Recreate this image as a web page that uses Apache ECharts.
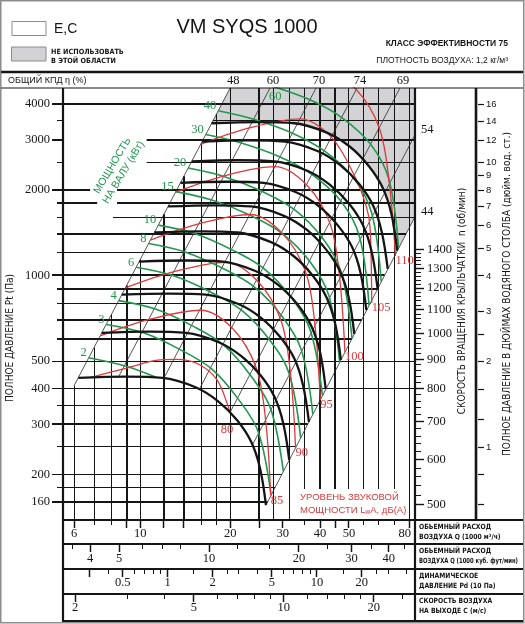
<!DOCTYPE html>
<html>
<head>
<meta charset="utf-8">
<title>VM SYQS 1000</title>
<script src="https://cdn.jsdelivr.net/npm/echarts@6/dist/echarts.min.js"></script>
<style>
  html, body { margin: 0; padding: 0; background: #fff; }
  #chart { width: 525px; height: 624px; }
</style>
</head>
<body>
<div id="chart"></div>
<script>
// VM SYQS 1000 fan map: flow Q (1000 m3/h) against total pressure Pt (Pa), log-log

// ---- extents of the map ----
var qMin = 5.51, qMax = 83.2;        // flow at left / right edge
var pMin = 138.4, pMax = 4556;       // pressure at bottom / top edge
var rpmMin = 470.5, rpmMax = 2693;   // impeller speed scale beside the map
var PA_PER_INCH = 249.09;
var CFM_PER_M3H = 0.5886;
var FLOW_PER_VELOCITY = 3.025;       // 1000 m3/h per 1 m/s at the outlet
var PD_PER_VEL2 = 0.06;              // dynamic pressure (10 Pa) per (m/s)^2

// ---- grid lines and scale ticks ----
var pressureGrid = [160, 180, 200, 250, 300, 350, 400, 500, 600, 700, 800, 900, 1000, 1200, 1400, 1600, 1800, 2000, 2500, 3000, 3500, 4000];
var pressureThick = [160, 300, 600, 700, 900, 1000, 1400, 1800, 2000, 3000, 4000];
var pressureFull = [400, 500];
var pressureLabels = [160, 200, 300, 400, 500, 1000, 2000, 3000, 4000];
var pressureGaps = {1600: [5.51, 8.1], 1800: [7.17, 8.36], 2000: [6.79, 8.36], 2500: [5.51, 10.5], 3000: [5.51, 10.5], 3500: [5.51, 17.5]};

var flowGrid = [6, 7, 8, 9, 10, 12, 14, 16, 18, 20, 25, 28, 31.5, 35.5, 40, 45, 50, 56, 63, 71, 80];
var flowThick = [9, 12, 14, 25, 40, 45];
var flowTicks = [6, 7, 8, 9, 10, 12, 14, 16, 18, 20, 25, 30, 35.5, 40, 45, 50, 56, 63, 71, 80];
var flowLabels = [6, 10, 20, 30, 40, 50, 80];
var cfmTicks = [3.5, 4, 5, 6, 7, 8, 10, 12.5, 16, 20, 25, 30, 35, 40, 45];
var cfmLabels = [4, 5, 10, 20, 30, 40];
var pdTicks = [0.3, 0.4, 0.5, 0.6, 0.7, 0.8, 0.9, 1, 1.5, 2, 2.5, 3, 4, 5, 6, 7, 8, 9, 10, 15, 20, 25, 30, 40];
var pdLabels = [0.5, 1, 2, 5, 10, 20];
var velTicks = [2, 3, 4, 5, 6, 7, 8, 9, 10, 12, 14, 16, 18, 20, 25];
var velLabels = [2, 5, 10, 20];

var rpmTicks = [500, 520, 540, 560, 580, 600, 620, 640, 660, 680, 700, 720, 740, 760, 780, 800, 820, 840, 860, 880,
  900, 920, 940, 960, 980, 1000, 1020, 1040, 1060, 1080, 1100, 1120, 1140, 1160, 1180, 1200, 1220, 1240, 1260, 1280,
  1300, 1320, 1340, 1360, 1380, 1400];
var rpmLabels = [500, 600, 700, 800, 900, 1000, 1100, 1200, 1300, 1400];
var inchLabels = [1, 2, 3, 4, 5, 6, 7, 8, 9, 10, 12, 14, 16];
var inchMinor = [0.63, 0.8, 1.25, 1.6, 2.5];

// ---- thin diagonals: total efficiency (%), end points [Q, Pt] ----
var effLines = [
  [[6.0, 410], [20.0, 4556]],
  [[8.45, 440], [27.2, 4556]],
  [[12.0, 436], [38.8, 4556]],
  [[15.8, 400], [53.2, 4556]],
  [[20.0, 331], [74.1, 4556]],
  [[23.75, 254], [83.2, 3117]],
  [[26.36, 156], [83.2, 1610]]
];
var effLabels = ['48', '60', '70', '74', '69', '54', '44'];

// ---- black: impeller speed (rpm) ----
var speeds = [500, 600, 700, 800, 900, 1000, 1100, 1200, 1300, 1400];
var speed500 = [[6.20, 437], [8.96, 441], [11.88, 437], [15.31, 405], [18.20, 362], [21.11, 310], [23.54, 260], [25.19, 210], [26.36, 156]];
var speed600 = [[7.43, 629], [10.71, 635], [14.23, 629], [18.30, 583], [21.80, 521], [25.28, 446], [28.17, 374], [30.13, 302], [31.54, 225]];
var speed700 = [[8.67, 857], [12.47, 864], [16.56, 857], [21.31, 794], [25.38, 710], [29.41, 608], [32.83, 510], [35.08, 412], [36.72, 306]];
var speed800 = [[9.91, 1119], [14.23, 1129], [18.89, 1119], [24.30, 1037], [28.95, 927], [33.54, 794], [37.36, 666], [40.01, 538], [41.79, 399]];
var speed900 = [[11.15, 1416], [15.97, 1429], [21.21, 1416], [27.29, 1312], [32.53, 1173], [37.66, 1004], [41.95, 842], [44.92, 680], [46.97, 505]];
var speed1000 = [[12.39, 1748], [17.71, 1764], [23.54, 1748], [30.29, 1620], [36.08, 1448], [41.75, 1240], [46.56, 1040], [49.86, 840], [52.08, 624]];
var speed1100 = [[13.63, 2115], [19.48, 2134], [25.87, 2115], [33.25, 1960], [39.60, 1752], [45.88, 1500], [51.22, 1258], [54.73, 1016], [57.17, 755]];
var speed1200 = [[14.87, 2517], [21.21, 2540], [28.17, 2517], [36.27, 2333], [43.11, 2085], [50.05, 1786], [55.76, 1498], [59.58, 1210], [62.36, 899]];
var speed1300 = [[16.10, 2954], [22.98, 2981], [30.48, 2954], [39.21, 2738], [46.66, 2447], [54.11, 2096], [60.28, 1758], [64.41, 1420], [67.42, 1055]];
var speed1400 = [[17.34, 3426], [24.70, 3457], [32.83, 3426], [42.14, 3175], [50.25, 2838], [58.15, 2430], [64.78, 2038], [69.37, 1646], [72.53, 1223]];
var speedCurves = [speed500, speed600, speed700, speed800, speed900, speed1000, speed1100, speed1200, speed1300, speed1400];

// ---- green: shaft power (kW) ----
var powerKw = [2, 3, 4, 6, 8, 10, 15, 20, 30, 40, 60];
var power2 = [[6.72, 514], [8.95, 480], [11.3, 439]];
var power3 = [[7.70, 673], [10.25, 629], [13.65, 548], [17.38, 469], [21.42, 365], [24.88, 281], [27.42, 169]];
var power4 = [[8.47, 816], [11.24, 762], [15.00, 664], [19.09, 568], [23.54, 442], [27.34, 340], [30.15, 205]];
var power6 = [[9.69, 1069], [12.85, 999], [17.19, 875], [21.94, 752], [27.16, 592], [31.51, 453], [34.45, 269]];
var power8 = [[10.66, 1295], [14.11, 1210], [18.87, 1060], [24.09, 912], [29.86, 718], [34.60, 549], [37.84, 326]];
var power10 = [[11.49, 1503], [15.20, 1404], [20.31, 1230], [25.95, 1058], [32.16, 833], [37.20, 637], [40.76, 378]];
var power15 = [[13.15, 1970], [17.36, 1840], [23.33, 1627], [29.83, 1407], [37.08, 1116], [42.85, 848], [46.52, 495]];
var power20 = [[14.47, 2386], [19.07, 2229], [25.64, 1972], [32.84, 1704], [40.82, 1351], [47.10, 1027], [51.19, 600]];
var power30 = [[16.57, 3127], [21.78, 2921], [29.40, 2609], [37.66, 2261], [47.18, 1817], [54.25, 1368], [58.35, 787]];
var power40 = [[18.24, 3788], [23.96, 3538], [32.35, 3161], [41.36, 2738], [51.82, 2201], [59.58, 1657], [64.09, 953]];
var power60 = [[20.87, 4963], [27.34, 4637], [36.97, 4141], [47.30, 3588], [59.19, 2885], [68.08, 2172], [73.28, 1249]];
var powerCurves = [power2, power3, power4, power6, power8, power10, power15, power20, power30, power40, power60];
var power60LabelAt = [28.3, 4240];

// ---- red: sound power level LwA, dB(A) ----
var noiseDb = [80, 85, 90, 95, 100, 105, 110];
var noise80 = [[6.79, 438], [9.03, 473], [11.65, 505], [13.28, 507], [15.86, 485], [18.07, 430], [19.53, 356], [19.98, 329]];
var noise85 = [[7.35, 614], [10.78, 702], [15.96, 755], [20.42, 650], [24.41, 476], [26.27, 313], [27.34, 169]];
var noise90 = [[8.92, 905], [13.07, 1033], [19.34, 1112], [24.68, 957], [29.52, 701], [31.79, 461], [33.12, 248]];
var noise95 = [[10.81, 1332], [15.79, 1521], [23.41, 1638], [29.86, 1409], [35.75, 1033], [38.41, 679], [40.08, 365]];
var noise100 = [[13.12, 1962], [19.12, 2240], [28.29, 2413], [36.16, 2075], [43.21, 1521], [46.45, 999], [48.46, 538]];
var noise105 = [[15.93, 2889], [23.16, 3298], [34.23, 3551], [43.70, 3056], [52.6, 2200], [57.2, 1741], [58.8, 1481], [59.6, 800]];
var noise110 = [[41.36, 5230], [52.85, 4500], [63.17, 3298], [68.02, 2167], [71.6, 1170]];
var noiseCurves = [noise80, noise85, noise90, noise95, noise100, noise105, noise110];

// ---- styling ----
var INK = '#151515';
var GREEN = '#23964f';
var RED = '#dc3a3c';
var GREY = '#d3d3d5';
var SERIF = "'Liberation Serif', 'DejaVu Serif', serif";
var SANS = "'Liberation Sans', Arial, sans-serif";
var NARROW = "'Liberation Sans Narrow', 'DejaVu Sans Condensed', 'Liberation Sans', sans-serif";
var SMOOTH = 0.35;

function font(size, family, weight) { return (weight ? weight + ' ' : '') + size + 'px ' + family; }
function crisp(v, w) { return (Math.round(w) % 2 === 1) ? Math.floor(v) + 0.5 : Math.round(v); }
function seg(x1, y1, x2, y2, w, color) {
  return {type: 'line', silent: true, shape: {x1: x1, y1: y1, x2: x2, y2: y2}, style: {stroke: color || INK, lineWidth: w}};
}
function label(x, y, txt, f, color, align, valign) {
  var a = align || 'center', v = valign || 'middle';
  return {type: 'text', x: x, y: y, silent: true,
    style: {text: txt, font: f, fill: color || INK, align: a, textAlign: a, verticalAlign: v, textVerticalAlign: v}};
}

// edges of the map are the first and last efficiency diagonals
var leftEdge = effLines[0], rightEdge = effLines[effLines.length - 1];
function slopeOf(line) { return Math.log(line[1][1] / line[0][1]) / Math.log(line[1][0] / line[0][0]); }
function pOnLine(line, q) { return line[0][1] * Math.pow(q / line[0][0], slopeOf(line)); }
function qOnLine(line, p) { return line[0][0] * Math.pow(p / line[0][1], 1 / slopeOf(line)); }

var hidden = {show: false, axisLine: {show: false}, axisTick: {show: false}, axisLabel: {show: false}, splitLine: {show: false}};
function axis(type, grid, min, max, extra) {
  return Object.assign({type: type, gridIndex: grid, min: min, max: max}, hidden, extra || {});
}

function areaAbove(data, color, z, smooth) {
  return {type: 'line', xAxisIndex: 0, yAxisIndex: 0, data: data, smooth: smooth ? SMOOTH : false,
    symbol: 'none', silent: true, z: z,
    lineStyle: {opacity: 0, width: 0}, areaStyle: {color: color, opacity: 1, origin: 'end'}};
}

function curve(data, color, width, z) {
  return {type: 'line', xAxisIndex: 0, yAxisIndex: 0, data: data, smooth: SMOOTH,
    symbol: 'none', silent: true, z: z, lineStyle: {color: color, width: width}};
}

function custom(xi, yi, z, data, render) {
  return {type: 'custom', xAxisIndex: xi, yAxisIndex: yi, z: z, silent: true, clip: false,
    encode: {x: 0, y: 1}, data: data, renderItem: render};
}

function rowSeries(idx, ticks, labels, tall, dy) {
  return custom(idx, idx, 8, ticks.map(function (v) { return [v, 0]; }), function (params, api) {
    var v = ticks[params.dataIndex];
    var pt = api.coord([v, 0]);
    var x = crisp(pt[0], 1);
    var named = labels.indexOf(v) >= 0;
    var big = named || tall.indexOf(v) >= 0;
    var kids = [seg(x, pt[1] + 1, x, pt[1] + (big ? 8 : 5), big ? 1.5 : 1)];
    if (named) {
      var edge = pt[0] > 404;
      kids.push(label(edge ? pt[0] + 1 : pt[0], pt[1] + dy, String(v), font(12.5, SERIF), INK, edge ? 'right' : 'center'));
    }
    return {type: 'group', children: kids};
  });
}

var series = [];

// grey "do not use" zone above the top speed curve
series.push(areaAbove(speed1400, GREY, 1, true));
series.push(areaAbove([speed1400[speed1400.length - 1], rightEdge[1]], GREY, 1, false));
series.push(areaAbove([speed1400[0], leftEdge[1]], '#fff', 2, false));

// horizontal pressure lines, with the left axis ticks and labels
series.push(custom(0, 0, 3, pressureGrid.map(function (p) { return [qMin, p]; }), function (params, api) {
  var p = pressureGrid[params.dataIndex];
  var w = pressureThick.indexOf(p) >= 0 ? 2 : 1;
  var named = pressureLabels.indexOf(p) >= 0;
  var qEnd = pressureFull.indexOf(p) >= 0 ? qMax : Math.min(qMax, qOnLine(rightEdge, p));
  var a = api.coord([qMin, p]), b = api.coord([qEnd, p]);
  var y = crisp(a[1], w);
  var x0 = a[0] - (named ? 11 : 6);
  var kids = [];
  var gap = pressureGaps[p];
  if (gap) {
    var g0 = gap[0] <= qMin ? a[0] : api.coord([gap[0], p])[0];
    var g1 = api.coord([gap[1], p])[0];
    kids.push(seg(x0, y, g0, y, w));
    kids.push(seg(g1, y, b[0], y, w));
  } else {
    kids.push(seg(x0, y, b[0], y, w));
  }
  if (named) kids.push(label(a[0] - 13, a[1], String(p), font(12.5, SERIF), INK, 'right'));
  return {type: 'group', children: kids};
}));

// vertical flow lines, from the left edge of the map down
series.push(custom(0, 0, 3, flowGrid.map(function (q) { return [q, pMin]; }), function (params, api) {
  var q = flowGrid[params.dataIndex];
  var w = flowThick.indexOf(q) >= 0 ? 2 : 1;
  var a = api.coord([q, Math.min(pMax, pOnLine(leftEdge, q))]), b = api.coord([q, pMin]);
  var x = crisp(a[0], w);
  return seg(x, a[1], x, b[1], w);
}));

// efficiency diagonals and their labels
series.push(custom(0, 0, 4, effLines.map(function (l) { return l[1]; }), function (params, api) {
  var i = params.dataIndex, l = effLines[i];
  var a = api.coord(l[0]), b = api.coord(l[1]);
  var kids = [seg(a[0], a[1], b[0], b[1], 0.8, '#2a2a2a')];
  if (i < 5) kids.push(label(b[0] + 3, b[1] - 7.5, effLabels[i], font(12.5, SERIF)));
  else kids.push(label(b[0] + 6, b[1] - 5, effLabels[i], font(12.5, SERIF), INK, 'left'));
  return {type: 'group', children: kids};
}));

powerCurves.forEach(function (c) { series.push(curve(c, GREEN, 1.6, 5)); });
noiseCurves.forEach(function (c) { series.push(curve(c, RED, 1.3, 6)); });
speedCurves.forEach(function (c) { series.push(curve(c, INK, 2.3, 7)); });

// power labels at the start of each green curve
series.push(custom(0, 0, 8, powerCurves.map(function (c, i) { return powerKw[i] === 60 ? power60LabelAt : c[0]; }), function (params, api) {
  var i = params.dataIndex;
  if (powerKw[i] === 60) {
    var m = api.coord(power60LabelAt);
    return label(m[0], m[1], '60', font(12.5, SERIF), GREEN);
  }
  var pt = api.coord(powerCurves[i][0]);
  return label(pt[0] - 2, pt[1] - 5, String(powerKw[i]), font(12.5, SERIF), GREEN, 'right');
}));

// noise labels at the end of each red curve
series.push(custom(0, 0, 8, noiseCurves.map(function (c) { return c[c.length - 1]; }), function (params, api) {
  var i = params.dataIndex, c = noiseCurves[i];
  var pt = api.coord(c[c.length - 1]);
  if (i === 0) return label(pt[0] - 3, pt[1] + 17, String(noiseDb[i]), font(12.5, SERIF), RED);
  return label(pt[0], pt[1] + 5, String(noiseDb[i]), font(12.5, SERIF), RED, 'left');
}));

// impeller speed scale
series.push(custom(1, 1, 8, rpmTicks.map(function (n) { return [0, n]; }), function (params, api) {
  var n = rpmTicks[params.dataIndex];
  var pt = api.coord([0, n]);
  var y = crisp(pt[1], 1);
  var major = rpmLabels.indexOf(n) >= 0;
  var kids = [seg(pt[0] + 1, y, pt[0] + (major ? 9 : 6), y, major ? 1.4 : 1)];
  if (major) kids.push(label(pt[0] + 12, pt[1], String(n), font(12.5, SERIF), INK, 'left'));
  return {type: 'group', children: kids};
}));

// inches of water scale
var inchTicks = inchLabels.concat(inchMinor);
series.push(custom(2, 2, 8, inchTicks.map(function (v) { return [0, v]; }), function (params, api) {
  var v = inchTicks[params.dataIndex];
  var pt = api.coord([0, v]);
  var y = crisp(pt[1], 1);
  var kids = [seg(pt[0] + 2, y, pt[0] + 8, y, 1.2)];
  if (inchLabels.indexOf(v) >= 0) kids.push(label(pt[0] + 10, pt[1], String(v), font(9.5, SANS), INK, 'left'));
  return {type: 'group', children: kids};
}));

// scales under the map
series.push(rowSeries(3, flowTicks, flowLabels, flowThick, 14));
series.push(rowSeries(4, cfmTicks, cfmLabels, [], 14.5));
series.push(rowSeries(5, pdTicks, pdLabels, [0.3], 14));
series.push(rowSeries(6, velTicks, velLabels, [], 14));

function gl(x1, y1, x2, y2, w, color) {
  return {type: 'line', z: 100, silent: true, shape: {x1: x1, y1: y1, x2: x2, y2: y2}, style: {stroke: color || INK, lineWidth: w}};
}
function gt(x, y, txt, f, color, align, rotation, extra, squeeze) {
  var a = align || 'left';
  return {type: 'text', x: x, y: y, z: 101, silent: true, rotation: rotation || 0, scaleX: squeeze || 1,
    style: Object.assign({text: txt, font: f, fill: color || INK, align: a, textAlign: a, verticalAlign: 'middle', textVerticalAlign: 'middle'}, extra || {})};
}
function caption(y, txt, squeeze) { return gt(419, y, txt, font(7.2, NARROW, 'bold'), INK, 'left', 0, null, squeeze || 0.94); }

var graphics = [
  {type: 'rect', z: 100, silent: true, shape: {x: 0.75, y: 0.75, width: 523, height: 622}, style: {fill: 'none', stroke: '#8c8c8c', lineWidth: 1.5}},
  gl(1, 72, 523, 72, 2.5),
  gl(1, 88, 523, 88, 1.2),
  gl(63, 88, 63, 622, 2.2),
  gl(415, 88, 415, 622, 2.2),
  gl(476, 88, 476, 520, 2.6),
  gl(63, 520, 523, 520, 2.2),
  gl(63, 544, 523, 544, 2),
  gl(63, 569, 523, 569, 2),
  gl(63, 594, 523, 594, 2),
  gl(63, 621, 523, 621, 2),

  // header
  {type: 'rect', z: 100, silent: true, shape: {x: 12, y: 21.5, width: 34, height: 14}, style: {fill: '#fff', stroke: '#8c8c8c', lineWidth: 1}},
  {type: 'rect', z: 100, silent: true, shape: {x: 11.5, y: 47, width: 34.5, height: 14}, style: {fill: GREY, stroke: '#8c8c8c', lineWidth: 1}},
  gt(54, 29, 'E,C', font(14, SANS)),
  gt(51, 52.5, 'НЕ ИСПОЛЬЗОВАТЬ', font(7.2, NARROW, 'bold')),
  gt(51, 61.5, 'В ЭТОЙ ОБЛАСТИ', font(7.2, NARROW, 'bold')),
  gt(247, 27, 'VM SYQS 1000', font(20, SANS), INK, 'center'),
  gt(508, 43.5, 'КЛАСС ЭФФЕКТИВНОСТИ 75', font(8.5, SANS, 'bold'), INK, 'right'),
  gt(508, 61, 'ПЛОТНОСТЬ ВОЗДУХА: 1,2 кг/м³', font(8.5, SANS), INK, 'right'),
  gt(8, 80.5, 'ОБЩИЙ КПД η (%)', font(9, SANS)),

  // axis titles
  gt(10, 338, 'ПОЛНОЕ ДАВЛЕНИЕ Pt (Па)', font(10, NARROW), INK, 'center', Math.PI / 2),
  gt(462, 301, 'СКОРОСТЬ ВРАЩЕНИЯ КРЫЛЬЧАТКИ  n (об/мин)', font(10, NARROW), INK, 'center', Math.PI / 2),
  gt(507, 294, 'ПОЛНОЕ ДАВЛЕНИЕ В ДЮЙМАХ ВОДЯНОГО СТОЛБА (дюйм. вод. ст.)', font(10, NARROW), INK, 'center', Math.PI / 2),
  gt(118, 169, 'МОЩНОСТЬ\nНА ВАЛУ (кВт)', font(10.5, SANS), GREEN, 'center', 1.03, {lineHeight: 13}),

  // sound power caption
  {type: 'rect', z: 99, silent: true, shape: {x: 297, y: 489, width: 104, height: 30}, style: {fill: '#fff'}},
  gt(300, 497, 'УРОВЕНЬ ЗВУКОВОЙ', font(9.5, SANS), RED),
  gt(300, 510, 'МОЩНОСТИ L{w|w}A, дБ(А)', font(9.5, SANS), RED, 'left', 0,
     {rich: {w: {font: font(6.5, SANS), fill: RED, padding: [5, 0, 0, 0]}}}),

  // captions of the scales under the map
  caption(527, 'ОБЬЕМНЫЙ РАСХОД'),
  caption(537, 'ВОЗДУХА Q (1000 м³/ч)'),
  caption(551.5, 'ОБЬЕМНЫЙ РАСХОД'),
  caption(561.5, 'ВОЗДУХА Q (1000 куб. фут/мин)', 0.82),
  caption(576.5, 'ДИНАМИЧЕСКОЕ'),
  caption(586, 'ДАВЛЕНИЕ Pd (10 Па)'),
  caption(601.5, 'СКОРОСТЬ ВОЗДУХА'),
  caption(611.5, 'НА ВЫХОДЕ С (м/с)')
];

var velMin = qMin / FLOW_PER_VELOCITY, velMax = qMax / FLOW_PER_VELOCITY;

var option = {
  backgroundColor: '#fff',
  animation: false,
  grid: [
    {left: 63, top: 88, width: 352, height: 432},
    {left: 415, top: 88, width: 61, height: 432},
    {left: 476, top: 88, width: 46, height: 432},
    {left: 63, top: 520, width: 352, height: 24},
    {left: 63, top: 544, width: 352, height: 25},
    {left: 63, top: 569, width: 352, height: 25},
    {left: 63, top: 594, width: 352, height: 26}
  ],
  xAxis: [
    axis('log', 0, qMin, qMax),
    axis('value', 1, 0, 1),
    axis('value', 2, 0, 1),
    axis('log', 3, qMin, qMax),
    axis('log', 4, qMin * CFM_PER_M3H, qMax * CFM_PER_M3H),
    axis('log', 5, PD_PER_VEL2 * velMin * velMin, PD_PER_VEL2 * velMax * velMax),
    axis('log', 6, velMin, velMax)
  ],
  yAxis: [
    axis('log', 0, pMin, pMax),
    axis('log', 1, rpmMin, rpmMax),
    axis('log', 2, pMin / PA_PER_INCH, pMax / PA_PER_INCH),
    axis('value', 3, 0, 1, {inverse: true}),
    axis('value', 4, 0, 1, {inverse: true}),
    axis('value', 5, 0, 1, {inverse: true}),
    axis('value', 6, 0, 1, {inverse: true})
  ],
  graphic: {elements: graphics},
  series: series
};

var myChart = echarts.init(document.getElementById('chart'));
myChart.setOption(option);
</script>
</body>
</html>
